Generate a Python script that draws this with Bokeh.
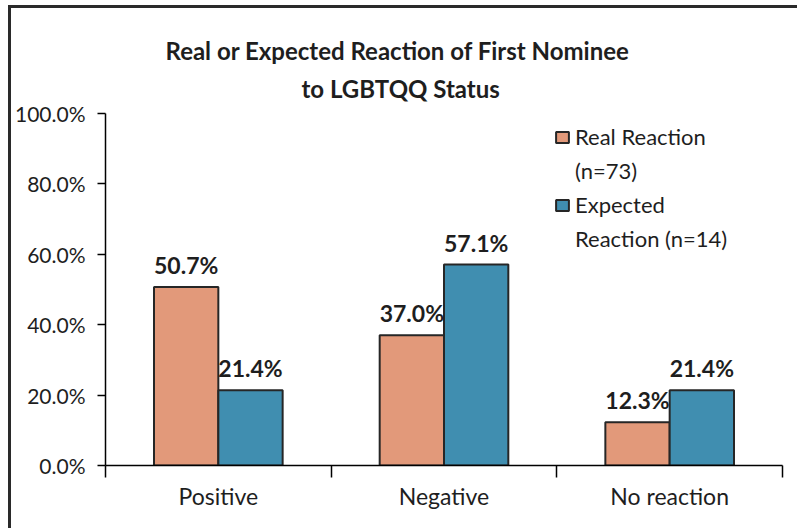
from bokeh.plotting import figure
from bokeh.models import (Range1d, FixedTicker, Legend, LegendItem, Title,
                          ColumnDataSource, PrintfTickFormatter)
from bokeh.transform import dodge
from bokeh.embed import file_html
from bokeh.resources import INLINE
from bokeh.core.properties import value

# ---- data ----
categories = ["Positive", "Negative", "No reaction"]
real_reaction = [50.7, 37.0, 12.3]
expected_reaction = [21.4, 57.1, 21.4]
legend_lines = [["Real Reaction", "(n=73)"], ["Expected", "Reaction (n=14)"]]
y_ticks = [0, 20, 40, 60, 80, 100]
title_lines = ["Real or Expected Reaction of First Nominee", "to LGBTQQ Status"]

FONT = "Lato"
ORANGE = "#E2997A"
BLUE = "#408EB0"
EDGE = "#262626"
TXT = "#1e1e1e"

pos = [i + 0.5 for i in range(len(categories))]
src = ColumnDataSource(dict(
    x=pos,
    real=real_reaction,
    exp=expected_reaction,
    real_lbl=[f"{v:.1f}%" for v in real_reaction],
    exp_lbl=[f"{v:.1f}%" for v in expected_reaction],
))

p = figure(width=789, height=523, output_backend="svg", toolbar_location=None,
           x_range=Range1d(0, len(categories)), y_range=Range1d(0, 100),
           min_border_left=93, min_border_right=18, min_border_top=105,
           min_border_bottom=66, title=None)
p.styles = {"margin-left": "8px", "margin-top": "5px",
            "border-left": "3px solid #2a2a2a", "border-top": "3px solid #2a2a2a"}
p.background_fill_color = "white"
p.border_fill_color = "white"
p.outline_line_color = None
p.xgrid.visible = False
p.ygrid.visible = False

bw = 0.285
off = bw / 2
r1 = p.vbar(x=dodge("x", -off), top="real", bottom=0, width=bw, source=src,
            fill_color=ORANGE, line_color=EDGE, line_width=2)
r2 = p.vbar(x=dodge("x", off), top="exp", bottom=0, width=bw, source=src,
            fill_color=BLUE, line_color=EDGE, line_width=2)

# invisible renderer for the second lines of the legend entries
empty = ColumnDataSource(dict(x=[], top=[]))
r_blank = p.vbar(x="x", top="top", width=0.1, source=empty,
                 fill_alpha=0, line_alpha=0)

for col, lbl, dx in (("real", "real_lbl", -off), ("exp", "exp_lbl", off)):
    p.text(x=dodge("x", dx), y=col, text=lbl, source=src,
           text_align="center", text_baseline="bottom", y_offset=-8,
           text_font=value(FONT), text_font_size="23px", text_font_style="bold",
           text_color=TXT)

# x axis: labels at category centres, tick marks at category boundaries
xa = p.xaxis[0]
xa.ticker = FixedTicker(ticks=pos, minor_ticks=list(range(len(categories) + 1)))
xa.major_label_overrides = {pv: c for pv, c in zip(pos, categories)}
xa.major_tick_out = 0
xa.major_tick_in = 0
xa.minor_tick_out = 12
xa.minor_tick_in = 0
xa.minor_tick_line_color = "black"
xa.minor_tick_line_width = 1.5
xa.axis_line_color = "black"
xa.axis_line_width = 1.5
xa.major_label_standoff = 4
xa.major_label_text_font = FONT
xa.major_label_text_font_size = "23px"
xa.major_label_text_color = TXT

ya = p.yaxis[0]
ya.ticker = FixedTicker(ticks=y_ticks)
ya.formatter = PrintfTickFormatter(format="%.1f%%")
ya.major_tick_out = 8
ya.major_tick_in = 0
ya.minor_tick_out = 0
ya.minor_tick_in = 0
ya.major_tick_line_color = "black"
ya.major_tick_line_width = 1.5
ya.axis_line_color = "black"
ya.axis_line_width = 1.5
ya.major_label_standoff = 12
ya.major_label_text_font = FONT
ya.major_label_text_font_size = "21px"
ya.major_label_text_color = TXT

# two-line title; panels added nearest-first
for line, offs, so in zip(reversed(title_lines), (196, 60), (22, -8)):
    t = Title(text=line, align="left", offset=offs,
              text_font=FONT, text_font_size="24px",
              text_font_style="bold", text_color=TXT)
    try:
        t.standoff = so
    except Exception:
        t.standoff = max(so, 0)
    p.add_layout(t, "above")

items = []
for (l1, l2), r in zip(legend_lines, (r1, r2)):
    items.append(LegendItem(label=l1, renderers=[r]))
    items.append(LegendItem(label=l2, renderers=[r_blank]))
legend = Legend(items=items, location=(449, 213), padding=0, margin=0, spacing=7,
                border_line_color=None, background_fill_alpha=0,
                glyph_width=16, glyph_height=14, label_standoff=5,
                label_text_font=FONT, label_text_font_size="22px",
                label_text_color=TXT)
p.add_layout(legend)

open("out.html", "w").write(file_html(p, INLINE))
